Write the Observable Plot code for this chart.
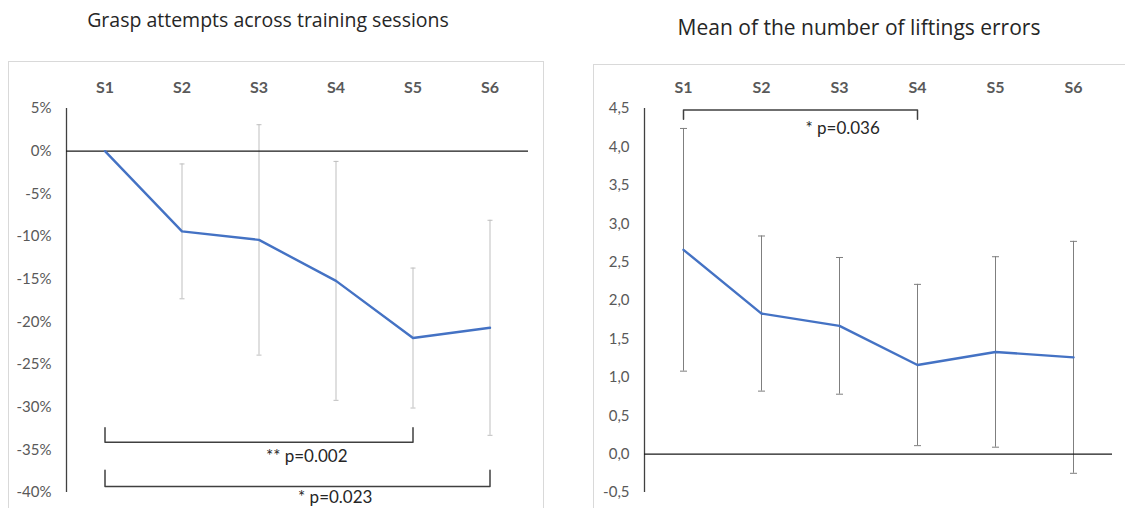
<!DOCTYPE html>
<html>
<head>
<meta charset="utf-8">
<script src="https://cdn.jsdelivr.net/npm/d3@7"></script>
<script src="https://cdn.jsdelivr.net/npm/@observablehq/plot@0.6"></script>
<style>
  body { margin: 0; background: #fff; }
  #wrap { position: relative; width: 1125px; height: 508px; overflow: hidden; background: #fff; }
  .title { position: absolute; font-family: "Open Sans", sans-serif; font-size: 21px; color: #262626; white-space: nowrap; transform: translate(-50%, -50%); }
  .border { position: absolute; border: 1px solid #d9d9d9; }
  .panel { position: absolute; }
</style>
</head>
<body>
<div id="wrap">
  <div class="border" style="left:8px;top:61px;width:534px;height:480px"></div>
  <div class="border" style="left:593px;top:64px;width:600px;height:480px"></div>
  <div class="title" style="left:268px;top:19px;font-size:19.5px">Grasp attempts across training sessions</div>
  <div class="title" style="left:859px;top:27px">Mean of the number of liftings errors</div>
  <div class="panel" id="left" style="left:0px;top:50px"></div>
  <div class="panel" id="right" style="left:580px;top:50px"></div>
</div>
<script>
// ---- data ----
const sessions = ["S1", "S2", "S3", "S4", "S5", "S6"];

// Left chart: grasp attempts (% change vs S1)
const graspMean = [0, -9.4, -10.4, -15.2, -21.9, -20.7];
const graspSd   = [0, 7.9, 13.5, 14.0, 8.2, 12.6];
const graspTicks = [5, 0, -5, -10, -15, -20, -25, -30, -35, -40];
const graspBrackets = [
  {from: 0, to: 4, tip: -32.4, bar: -34.1, label: "** p=0.002", labelX: 2.62, labelY: -35.8},
  {from: 0, to: 5, tip: -37.4, bar: -39.3, label: "* p=0.023", labelX: 2.99, labelY: -40.6}
];

// Right chart: mean number of lifting errors
const liftMean = [2.66, 1.83, 1.67, 1.16, 1.33, 1.26];
const liftSd   = [1.58, 1.01, 0.89, 1.05, 1.24, 1.51];
const liftTicks = [4.5, 4.0, 3.5, 3.0, 2.5, 2.0, 1.5, 1.0, 0.5, 0.0, -0.5];
const liftBrackets = [
  {from: 0, to: 3, tip: 4.36, bar: 4.48, label: "* p=0.036", labelX: 2.04, labelY: 4.24}
];

// ---- helpers ----
const idx = sessions.map((d, i) => i);
const capSymbol = {
  draw(context, size) {
    const r = Math.sqrt(size / Math.PI);
    context.moveTo(-r, 0);
    context.lineTo(r, 0);
  }
};

function bracketPoints(brackets) {
  const pts = [];
  brackets.forEach((b, k) => {
    pts.push({k, x: b.from, y: b.tip});
    pts.push({k, x: b.from, y: b.bar});
    pts.push({k, x: b.to, y: b.bar});
    pts.push({k, x: b.to, y: b.tip});
  });
  return pts;
}

function makeChart({mean, sd, ticks, tickFormat, yDomain, brackets, width, marginLeft, marginRight, errColor, capR}) {
  const rows = idx.map(i => ({i, m: mean[i], s: sd[i]}));
  const err = rows.filter(d => d.s > 0);
  return Plot.plot({
    width,
    height: 458,
    marginTop: 58,
    marginBottom: 16,
    marginLeft,
    marginRight,
    style: {fontFamily: "Lato, sans-serif", color: "#595959", background: "transparent", overflow: "visible"},
    x: {domain: [-0.5, sessions.length - 0.5], axis: null},
    y: {domain: yDomain, axis: null},
    marks: [
      Plot.axisX({anchor: "top", ticks: idx, tickFormat: i => sessions[i], tickSize: 0, tickPadding: 16, fontSize: 16, fontWeight: "bold"}),
      Plot.axisY({anchor: "left", ticks, tickFormat, tickSize: 0, tickPadding: 15, fontSize: 15}),
      Plot.ruleX([-0.5], {stroke: "#404040", strokeWidth: 1.3}),
      Plot.ruleX(err, {x: "i", y1: d => d.m - d.s, y2: d => d.m + d.s, stroke: errColor, strokeWidth: 1}),
      Plot.dot(err, {x: "i", y: d => d.m - d.s, symbol: capSymbol, r: capR, stroke: errColor, strokeWidth: 1}),
      Plot.dot(err, {x: "i", y: d => d.m + d.s, symbol: capSymbol, r: capR, stroke: errColor, strokeWidth: 1}),
      Plot.ruleY([0], {stroke: "#1a1a1a", strokeWidth: 1.3}),
      Plot.line(rows, {x: "i", y: "m", stroke: "#4472C4", strokeWidth: 2.4}),
      Plot.line(bracketPoints(brackets), {x: "x", y: "y", z: "k", stroke: "#404040", strokeWidth: 1.5, curve: "linear"}),
      Plot.text(brackets, {x: "labelX", y: "labelY", text: "label", fontSize: 17, fill: "#262626"})
    ]
  });
}

document.getElementById("left").appendChild(makeChart({
  mean: graspMean, sd: graspSd, ticks: graspTicks,
  tickFormat: d => `${d}%`, yDomain: [-40, 5], brackets: graspBrackets,
  width: 560, marginLeft: 66, marginRight: 32, errColor: "#bfbfbf", capR: 2.5
}));

document.getElementById("right").appendChild(makeChart({
  mean: liftMean, sd: liftSd, ticks: liftTicks,
  tickFormat: d => d.toFixed(1).replace(".", ","), yDomain: [-0.5, 4.5], brackets: liftBrackets,
  width: 545, marginLeft: 64, marginRight: 13, errColor: "#7f7f7f", capR: 3.5
}));
</script>
</body>
</html>
